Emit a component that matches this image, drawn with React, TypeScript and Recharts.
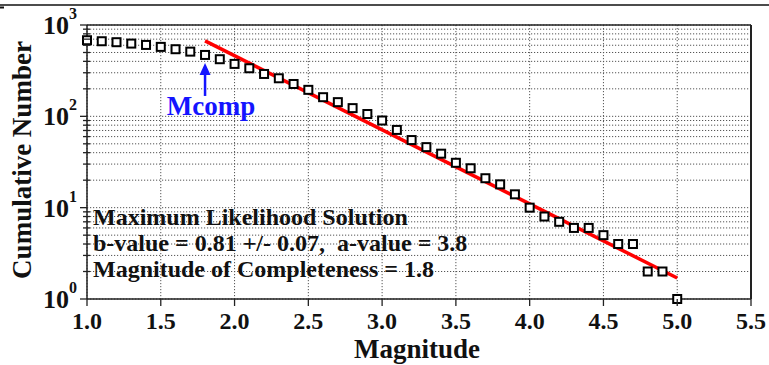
import React from 'react';
import { ComposedChart, Scatter, Line, XAxis, YAxis, CartesianGrid } from 'recharts';

const magnitudes = [1.0, 1.1, 1.2, 1.3, 1.4, 1.5, 1.6, 1.7, 1.8, 1.9, 2.0, 2.1, 2.2, 2.3, 2.4, 2.5, 2.6, 2.7, 2.8, 2.9, 3.0, 3.1, 3.2, 3.3, 3.4, 3.5, 3.6, 3.7, 3.8, 3.9, 4.0, 4.1, 4.2, 4.3, 4.4, 4.5, 4.6, 4.7, 4.8, 4.9, 5.0];
const cumulativeCounts = [681, 664, 648, 626, 605, 576, 543, 511, 470, 422, 375, 336, 291, 261, 226, 195, 162, 143, 123, 106, 90, 71, 55, 46, 39, 31, 27, 21, 18, 14, 10, 8, 7, 6, 6, 5, 4, 4, 2, 2, 1];

const fitMagnitudes = [1.8, 5.0];
const fitCounts = [670, 1.7];

const mcompMagnitude = [1.8];
const mcompArrowTip = [384];

const xTicks = [1.0, 1.5, 2.0, 2.5, 3.0, 3.5, 4.0, 4.5, 5.0, 5.5];
const yTicks = [1, 2, 3, 4, 5, 6, 7, 8, 9, 10, 20, 30, 40, 50, 60, 70, 80, 90, 100, 200, 300, 400, 500, 600, 700, 800, 900, 1000];
const decadeExponent: Record<number, string> = { 1: '0', 10: '1', 100: '2', 1000: '3' };

const annotationLines = [
  'Maximum Likelihood Solution',
  'b-value = 0.81 +/- 0.07,  a-value = 3.8',
  'Magnitude of Completeness = 1.8',
];

const points = magnitudes.map((m, i) => ({ m, n: cumulativeCounts[i] }));
const fit = fitMagnitudes.map((m, i) => ({ m, n: fitCounts[i] }));
const mcomp = mcompMagnitude.map((m, i) => ({ m, n: mcompArrowTip[i] }));

const FONT = '"Liberation Serif", "Times New Roman", serif';
const AXIS = '#222';

const LeftTick = (props: any) => {
  const { x, y, payload } = props;
  const v = payload.value;
  const exp = decadeExponent[v];
  const major = exp !== undefined;
  return (
    <g>
      <line x1={major ? x - 7 : x - 4} x2={major ? x : x + 3} y1={y} y2={y} stroke={AXIS} strokeWidth={1.3} />
      {major && (
        <text x={x - 10} y={y + 9} textAnchor="end" fontFamily={FONT} fontWeight="bold" fill="#111">
          <tspan fontSize={26}>10</tspan>
          <tspan fontSize={16} dy={-15}>{exp}</tspan>
        </text>
      )}
    </g>
  );
};

const RightTick = (props: any) => {
  const { x, y, payload } = props;
  const major = decadeExponent[payload.value] !== undefined;
  return <line x1={major ? x - 3 : x - 2} x2={major ? x + 7 : x + 4} y1={y} y2={y} stroke={AXIS} strokeWidth={1.3} />;
};

const BottomTick = (props: any) => {
  const { x, y, payload } = props;
  return (
    <g>
      <line x1={x} x2={x} y1={y} y2={y + 7} stroke={AXIS} strokeWidth={1.3} />
      <text x={x} y={y + 30} textAnchor="middle" fontFamily={FONT} fontWeight="bold" fontSize={24} fill="#111">
        {payload.value.toFixed(1)}
      </text>
    </g>
  );
};

const TopTick = (props: any) => {
  const { x, y } = props;
  return <line x1={x} x2={x} y1={y - 7} y2={y} stroke={AXIS} strokeWidth={1.3} />;
};

const SquareMarker = (props: any) => {
  const { cx, cy } = props;
  return <rect x={cx - 4} y={cy - 4} width={8} height={8} fill="#fff" stroke="#000" strokeWidth={2} />;
};

const McompMarker = (props: any) => {
  const { cx, cy } = props;
  const blue = '#1414ff';
  return (
    <g>
      <line x1={cx} x2={cx} y1={cy + 8} y2={cy + 33} stroke={blue} strokeWidth={2.5} />
      <polygon points={`${cx},${cy} ${cx - 5.5},${cy + 12} ${cx + 5.5},${cy + 12}`} fill={blue} />
      <text x={cx + 6} y={cy + 52} textAnchor="middle" fontFamily={FONT} fontWeight="bold" fontSize={27} fill={blue}>
        Mcomp
      </text>
    </g>
  );
};

export default function App() {
  return (
    <div style={{ position: 'absolute', left: 0, top: 0, width: 769, height: 365, background: '#fff' }}>
      <ComposedChart width={769} height={365} margin={{ top: 15, right: 8, left: 0, bottom: 0 }}>
        <CartesianGrid stroke="#555" strokeDasharray="1.2 1.8" strokeWidth={1} />
        <XAxis
          dataKey="m"
          type="number"
          domain={[1, 5.5]}
          ticks={xTicks}
          height={66}
          tickSize={0}
          tickMargin={0}
          tickLine={false}
          tick={<BottomTick />}
          axisLine={{ stroke: AXIS, strokeWidth: 1.5 }}
        />
        <XAxis
          xAxisId="top"
          orientation="top"
          type="number"
          domain={[1, 5.5]}
          ticks={xTicks}
          height={10}
          tickSize={0}
          tickMargin={0}
          tickLine={false}
          tick={<TopTick />}
          axisLine={{ stroke: AXIS, strokeWidth: 1.5 }}
        />
        <YAxis
          dataKey="n"
          scale="log"
          type="number"
          domain={[1, 1000]}
          ticks={yTicks}
          width={87}
          tickSize={0}
          tickMargin={0}
          tickLine={false}
          tick={<LeftTick />}
          interval={0}
          axisLine={{ stroke: AXIS, strokeWidth: 1.5 }}
        />
        <YAxis
          yAxisId="right"
          orientation="right"
          scale="log"
          type="number"
          domain={[1, 1000]}
          ticks={yTicks}
          width={10}
          tickSize={0}
          tickMargin={0}
          tickLine={false}
          tick={<RightTick />}
          interval={0}
          axisLine={{ stroke: AXIS, strokeWidth: 2 }}
        />
        <Line data={fit} dataKey="n" type="linear" stroke="#ff0000" strokeWidth={3.5} dot={false} isAnimationActive={false} />
        <Scatter data={points} dataKey="n" shape={<SquareMarker />} isAnimationActive={false} />
        <Scatter data={mcomp} dataKey="n" shape={<McompMarker />} isAnimationActive={false} />
      </ComposedChart>
      <svg width={769} height={365} style={{ position: 'absolute', left: 0, top: 0, pointerEvents: 'none' }}>
        <line x1={0} x2={769} y1={5} y2={5} stroke="#111" strokeWidth={1.5} />
        <line x1={0} x2={4} y1={7.5} y2={7.5} stroke="#111" strokeWidth={2} />
        {annotationLines.map((t, i) => (
          <text key={i} x={93} y={225 + i * 26} fontFamily={FONT} fontWeight="bold" fontSize={24} fill="#111" style={{ whiteSpace: 'pre' }}>
            {t}
          </text>
        ))}
        <text x={417} y={358} textAnchor="middle" fontFamily={FONT} fontWeight="bold" fontSize={27} fill="#111">
          Magnitude
        </text>
        <text x={0} y={0} transform="translate(31,160) rotate(-90)" textAnchor="middle" fontFamily={FONT} fontWeight="bold" fontSize={27} fill="#111">
          Cumulative Number
        </text>
      </svg>
    </div>
  );
}
